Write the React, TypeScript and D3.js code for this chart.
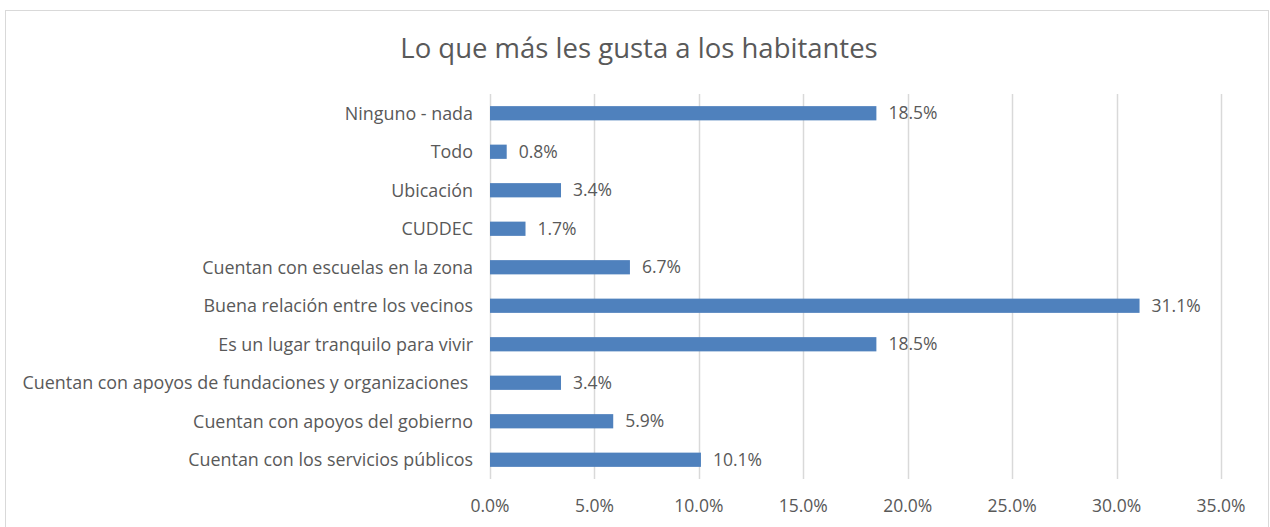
import React from "react";
import * as d3 from "d3";

// Categories, top to bottom
const categories = [
  "Ninguno - nada",
  "Todo",
  "Ubicación",
  "CUDDEC",
  "Cuentan con escuelas en la zona",
  "Buena relación entre los vecinos",
  "Es un lugar tranquilo para vivir",
  "Cuentan con apoyos de fundaciones y organizaciones ",
  "Cuentan con apoyos del gobierno",
  "Cuentan con los servicios públicos",
];

// Share of responses
const values = [0.185, 0.008, 0.034, 0.017, 0.067, 0.311, 0.185, 0.034, 0.059, 0.101];

const xTicks = [0, 0.05, 0.1, 0.15, 0.2, 0.25, 0.3, 0.35];

const title = "Lo que más les gusta a los habitantes";

const App: React.FC = () => {
  const width = 1270;
  const height = 527;
  const margin = { top: 94, right: 49, bottom: 48, left: 490 };
  const font = "'Open Sans', sans-serif";
  const textColor = "#595959";

  const x = d3
    .scaleLinear()
    .domain([0, 0.35])
    .range([margin.left, width - margin.right]);

  const y = d3
    .scaleBand<string>()
    .domain(categories)
    .range([margin.top, height - margin.bottom])
    .paddingInner(0.63)
    .paddingOuter(0.315);

  const fmt = d3.format(".1%");

  return (
    <svg
      width={width}
      height={height}
      style={{ position: "absolute", left: 0, top: 0, background: "#fff" }}
      fontFamily={font}
    >
      <rect x={5.5} y={10.5} width={1263} height={530} fill="#fff" stroke="#d9d9d9" />

      <text x={639} y={58} textAnchor="middle" fontSize={27.5} fill={textColor}>
        {title}
      </text>

      {/* vertical gridlines */}
      {xTicks.map((t) => (
        <line
          key={t}
          x1={Math.round(x(t)) + 0.5}
          x2={Math.round(x(t)) + 0.5}
          y1={margin.top}
          y2={height - margin.bottom}
          stroke="#d9d9d9"
          strokeWidth={1.5}
        />
      ))}

      {/* tick labels */}
      {xTicks.map((t) => (
        <text key={t} x={x(t)} y={512} textAnchor="middle" fontSize={17.5} fill={textColor}>
          {fmt(t)}
        </text>
      ))}

      {/* bars */}
      {categories.map((c, i) => (
        <rect
          key={c}
          x={x(0)}
          y={y(c)}
          width={x(values[i]) - x(0)}
          height={y.bandwidth()}
          fill="#4f81bd"
        />
      ))}

      {/* value labels */}
      {categories.map((c, i) => (
        <text
          key={c}
          x={x(values[i]) + 12}
          y={(y(c) ?? 0) + y.bandwidth() / 2}
          dy="0.35em"
          fontSize={17.5}
          fill={textColor}
        >
          {fmt(values[i])}
        </text>
      ))}

      {/* category labels */}
      {categories.map((c) => (
        <text
          key={c}
          x={473}
          y={(y(c) ?? 0) + y.bandwidth() / 2}
          dy="0.35em"
          textAnchor="end"
          fontSize={17.9}
          fill={textColor}
          style={{ whiteSpace: "pre" }}
        >
          {c}
        </text>
      ))}
    </svg>
  );
};

export default App;
